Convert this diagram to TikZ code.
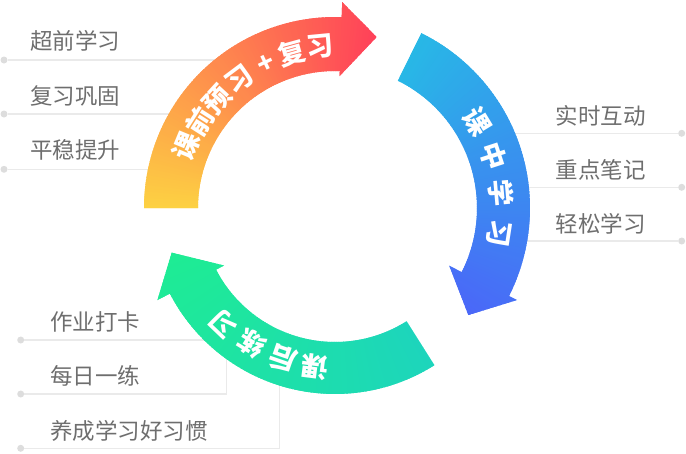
\documentclass[tikz,border=0pt]{standalone}
\usepackage{fontspec}
\newfontfamily\cjk{Noto Sans CJK SC}
\definecolor{oA}{RGB}{253,210,66}
\definecolor{oB}{RGB}{255,66,89}
\definecolor{bA}{RGB}{40,184,230}
\definecolor{bB}{RGB}{74,104,248}
\definecolor{gA}{RGB}{29,213,188}
\definecolor{gB}{RGB}{30,236,148}
\definecolor{textgray}{RGB}{110,110,110}
\definecolor{linegray}{RGB}{234,234,234}
\definecolor{dotgray}{RGB}{221,221,221}
\tikzset{
 sidelabel/.style={font=\cjk\fontsize{22.5}{24}\selectfont, text=textgray, anchor=west, inner sep=0pt},
 sideline/.style={draw=linegray, line width=1.5pt},
 dotnode/.style={circle, fill=dotgray, minimum size=7pt, inner sep=0pt},
 arctext/.style={font=\cjk\bfseries\fontsize{27}{27}\selectfont, text=white, inner sep=0pt},
}
\begin{document}
\begin{tikzpicture}[x=1pt,y=-1pt]
\useasboundingbox (0,0) rectangle (686,453);
% ---------- left group
\node[dotnode] (d1) at (4,60) {};
\node[dotnode] (d2) at (4,114) {};
\node[dotnode] (d3) at (4,169.3) {};
\coordinate (e1) at (240,60);
\coordinate (e2) at (190,114);
\coordinate (e3) at (170,169.3);
\draw[sideline] (d1) -- (e1);
\draw[sideline] (d2) -- (e2);
\draw[sideline] (d3) -- (e3);
\node[sidelabel] (l1) at (30,41) {超前学习};
\node[sidelabel] (l2) at (30,95.5) {复习巩固};
\node[sidelabel] (l3) at (30,150) {平稳提升};
% ---------- right group
\node[dotnode] (d4) at (681.7,133.3) {};
\node[dotnode] (d5) at (681.7,187.3) {};
\node[dotnode] (d6) at (681.7,241) {};
\coordinate (e4) at (495,133.3);
\coordinate (e5) at (510,187.3);
\coordinate (e6) at (510,241);
\draw[sideline] (d4) -- (e4);
\draw[sideline] (d5) -- (e5);
\draw[sideline] (d6) -- (e6);
\node[sidelabel] (l4) at (555.5,116.3) {实时互动};
\node[sidelabel] (l5) at (555.5,169.7) {重点笔记};
\node[sidelabel] (l6) at (555.5,223.7) {轻松学习};
% ---------- bottom group
\node[dotnode] (d7) at (20.7,340) {};
\node[dotnode] (d8) at (20.7,394) {};
\node[dotnode] (d9) at (20.7,448.3) {};
\coordinate (e7) at (235,340);
\coordinate (c8) at (226.7,394);
\coordinate (e8) at (226.7,330);
\coordinate (c9) at (279.3,448.3);
\coordinate (e9) at (279.3,370);
\draw[sideline] (d7) -- (e7);
\draw[sideline] (d8) -- (c8) -- (e8);
\draw[sideline] (d9) -- (c9) -- (e9);
\node[sidelabel] (l7) at (50,321.7) {作业打卡};
\node[sidelabel] (l8) at (50,376) {每日一练};
\node[sidelabel] (l9) at (50,430.8) {养成学习好习惯};
% ---------- arrows
\begin{scope}[shift={(335,208)}, yscale=-1]
 % orange
 \begin{scope}
  \clip (180:191) arc[start angle=180, end angle=88, radius=191] -- (88:206) -- (76.3:176) -- (88:132) -- (88:137) arc[start angle=88, end angle=180, radius=137] -- cycle;
  \foreach \k in {0,...,108} {
    \pgfmathsetmacro\a{182-\k}
    \pgfmathsetmacro\b{\a-1.7}
    \pgfmathtruncatemacro\p{min(100,100*\k/104)}
    \fill[oB!\p!oA] (0,0) -- (\a:240) arc[start angle=\a, end angle=\b, radius=240] -- cycle;
  }
 \end{scope}
 % blue
 \begin{scope}
  \clip (63.7:195) arc[start angle=63.7, end angle=-26.8, radius=195] -- (-26.8:204) -- (-38.75:171) -- (-26.8:128) -- (-26.8:142) arc[start angle=-26.8, end angle=63.7, radius=142] -- cycle;
  \foreach \k in {0,...,106} {
    \pgfmathsetmacro\a{65-\k}
    \pgfmathsetmacro\b{\a-1.7}
    \pgfmathtruncatemacro\p{min(100,100*\k/102)}
    \fill[bB!\p!bA] (0,0) -- (\a:240) arc[start angle=\a, end angle=\b, radius=240] -- cycle;
  }
 \end{scope}
 % green
 \begin{scope}
  \clip (-57.7:186) arc[start angle=-57.7, end angle=-152.6, radius=186] -- (-152.6:200) -- (-164.7:169.3) -- (-152.6:125) -- (-152.6:134) arc[start angle=-152.6, end angle=-57.7, radius=134] -- cycle;
  \foreach \k in {0,...,111} {
    \pgfmathsetmacro\a{-56-\k}
    \pgfmathsetmacro\b{\a-1.7}
    \pgfmathtruncatemacro\p{min(100,100*\k/107)}
    \fill[gB!\p!gA] (0,0) -- (\a:240) arc[start angle=\a, end angle=\b, radius=240] -- cycle;
  }
 \end{scope}
 % text on arcs
 \node[arctext, rotate=67.5] (o1) at (157.5:161) {课};
 \node[arctext, rotate=57.5] (o2) at (147.5:160) {前};
 \node[arctext, rotate=47.5] (o3) at (137.5:160) {预};
 \node[arctext, rotate=36.8] (o4) at (126.8:160) {习};
 \node[arctext, rotate=25.5] (o5) at (115.5:160) {+};
 \node[arctext, rotate=15.5] (o6) at (105.5:161) {复};
 \node[arctext, rotate=5.5] (o7) at (95.3:162) {习};
 \node[arctext, rotate=-58.8] (b1) at (31.2:166) {课};
 \node[arctext, rotate=-72] (b2) at (18:167) {中};
 \node[arctext, rotate=-85] (b3) at (5:167) {学};
 \node[arctext, rotate=-98.8] (b4) at (-8.8:166) {习};
 \node[arctext, rotate=172.8] (g1) at (262.8:160) {课};
 \node[arctext, rotate=161] (g2) at (251:159) {后};
 \node[arctext, rotate=148.4] (g3) at (238.4:159) {练};
 \node[arctext, rotate=136.3] (g4) at (226.3:161) {习};
\end{scope}
\end{tikzpicture}
\end{document}
